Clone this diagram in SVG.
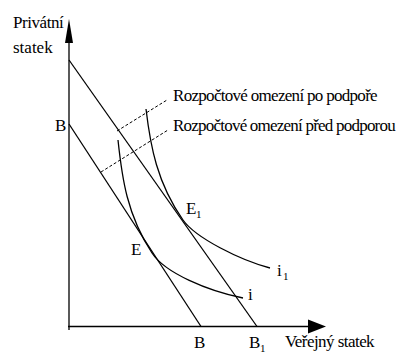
<svg xmlns="http://www.w3.org/2000/svg" width="402" height="354" viewBox="0 0 402 354">
<style>
.ln{fill:none;stroke:#000;stroke-width:1.3}
.ds{fill:none;stroke:#000;stroke-width:1;stroke-dasharray:3 2}
.t{font-family:'Liberation Serif','Times New Roman','DejaVu Serif',serif;font-size:17px;fill:#000}
.sub{font-size:11px}
</style>
<rect width="402" height="354" fill="#fff"/>
<g id="axes">
<line class="ln" x1="69" y1="330" x2="69" y2="40"/>
<polygon points="69,19 65,43 73,43" fill="#000"/>
<line class="ln" x1="68" y1="326.5" x2="310" y2="326.5"/>
<polygon points="326,326.5 308,319.5 308,333.5" fill="#000"/>
<text class="t" x="13" y="28" letter-spacing="-0.45">Privátní</text>
<text class="t" x="13" y="53">statek</text>
<text class="t" x="285" y="347" letter-spacing="-0.55">Veřejný statek</text>
</g>
<g id="connectors">
<line class="ln" x1="69" y1="60" x2="257" y2="326.5"/>
<line class="ln" x1="69" y1="124" x2="201" y2="326.5"/>
<line class="ds" x1="117" y1="131" x2="167" y2="100"/>
<line class="ds" x1="101" y1="172" x2="168" y2="130"/>
</g>
<g id="curve-i">
<path class="ln" d="M118,140 C122,178 127,215 152,253 C165,273 208,291 243,298"/>
<text class="t" x="248" y="300">i</text>
</g>
<g id="curve-i1">
<path class="ln" d="M146,109 C150.4,146 157,183 183,220 C195.7,238 240,260 270,268"/>
<text class="t" x="277" y="276">i</text><text class="t sub" x="283" y="280">1</text>
</g>
<g id="point-E">
<text class="t" x="131" y="255">E</text>
</g>
<g id="point-E1">
<text class="t" x="186" y="214">E</text><text class="t sub" x="196" y="218">1</text>
</g>
<g id="label-B">
<text class="t" x="55" y="131">B</text>
<text class="t" x="194" y="348">B</text>
<text class="t" x="249" y="348">B</text><text class="t sub" x="260" y="352">1</text>
</g>
<g id="label-po">
<text class="t" x="173" y="101" letter-spacing="-0.7">Rozpočtové omezení po podpoře</text>
</g>
<g id="label-pred">
<text class="t" x="173" y="131" letter-spacing="-0.78">Rozpočtové omezení před podporou</text>
</g>
</svg>
